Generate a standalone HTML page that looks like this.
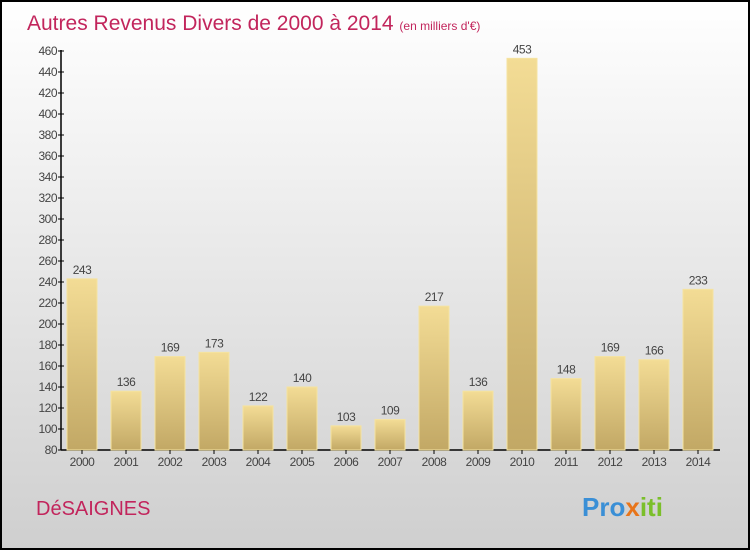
<!DOCTYPE html>
<html><head><meta charset="utf-8"><style>
body{margin:0;width:750px;height:550px;overflow:hidden;font-family:"Liberation Sans",sans-serif}
#wrap{position:absolute;left:0;top:0;width:746px;height:546px;border:2px solid #000;background:linear-gradient(#ffffff,#cfcfcf);}
</style></head><body>
<div id="wrap">
<svg id="chart" width="746" height="546" style="position:absolute;left:0;top:0">
<defs><linearGradient id="bg" x1="0" y1="0" x2="0" y2="1"><stop offset="0" stop-color="#f3dc95"/><stop offset="1" stop-color="#c2a865"/></linearGradient></defs>
<text x="25" y="28" font-size="21" fill="#c2255c">Autres Revenus Divers de 2000 à 2014 <tspan font-size="12">(en milliers d'€)</tspan></text>
<text x="34" y="513" font-size="20" fill="#c2255c">DéSAIGNES</text>
<text x="580" y="514" font-size="26" font-weight="bold"><tspan fill="#3a8fd6">Pro</tspan><tspan fill="#e8751a">x</tspan><tspan fill="#7bbf2a">iti</tspan></text>
<g id="g"></g>
</svg></div>
<script>
const years=["2000","2001","2002","2003","2004","2005","2006","2007","2008","2009","2010","2011","2012","2013","2014"];
const values=[243,136,169,173,122,140,103,109,217,136,453,148,169,166,233];
const ticks=[80,100,120,140,160,180,200,220,240,260,280,300,320,340,360,380,400,420,440,460];
const ns="http://www.w3.org/2000/svg",g=document.getElementById("g");
const y=v=>448-(v-80)*(399/380), x=i=>80+i*44;
function mk(t,a,txt){const e=document.createElementNS(ns,t);for(const k in a)e.setAttribute(k,a[k]);if(txt!=null)e.textContent=txt;g.appendChild(e);return e;}
let e=mk("line",{x1:59,y1:y(460)-1,x2:59,y2:448,stroke:"#000","stroke-width":1.5});


e=mk("line",{x1:59,y1:448,x2:718,y2:448,stroke:"#000","stroke-width":1.5});


ticks.forEach(t=>{
 e=mk("line",{x1:56,x2:62,y1:y(t),y2:y(t),stroke:"#000"});
 
 
 e=mk("text",{x:55,y:y(t)+4,"font-size":12,fill:"#444","text-anchor":"end","letter-spacing":"-0.5"},t);
 
 
});
years.forEach((yr,i)=>{
 const v=values[i];
 e=mk("rect",{x:x(i)-15,y:y(v),width:30,height:448-y(v),fill:"url(#bg)",stroke:"#f5e3a0","stroke-width":1});
 
 
 e=mk("text",{x:x(i),y:y(v)-5,"font-size":12,fill:"#444","text-anchor":"middle","letter-spacing":"-0.5"},v);
 
 
 e=mk("line",{x1:x(i),x2:x(i),y1:448,y2:452,stroke:"#000"});
 
 
 e=mk("text",{x:x(i),y:464,"font-size":12,fill:"#444","text-anchor":"middle","letter-spacing":"-0.5"},yr);
 
 
});
</script>
</body></html>
